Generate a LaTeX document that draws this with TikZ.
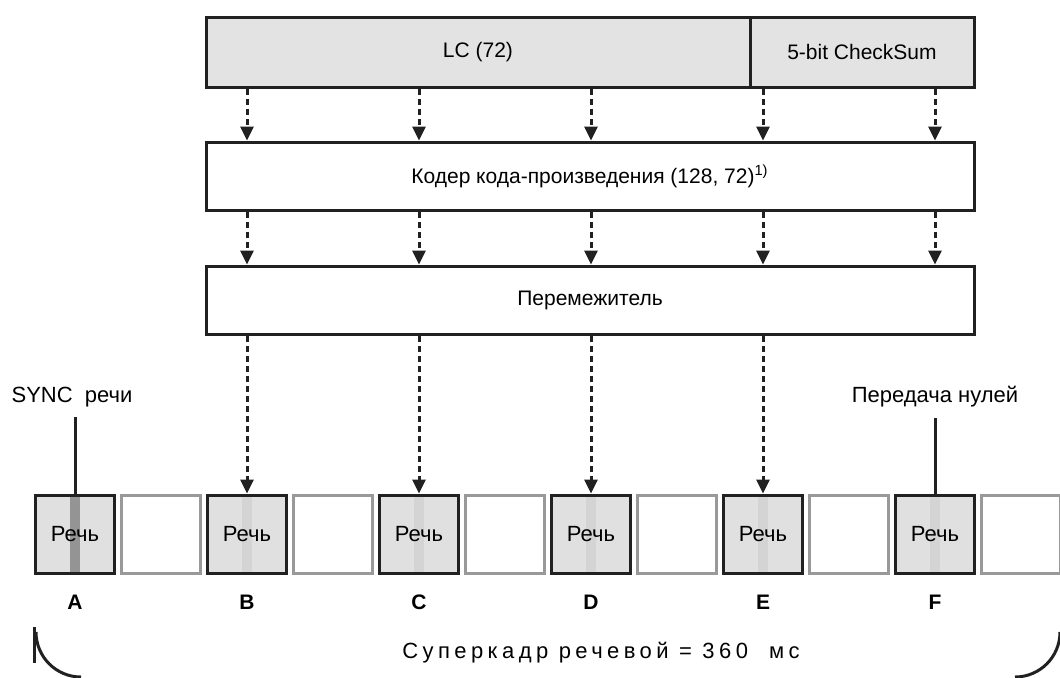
\documentclass[tikz,border=0pt]{standalone}
\usepackage{fontspec}
\setsansfont{Liberation Sans}
\usetikzlibrary{arrows.meta}

\begin{document}
\begin{tikzpicture}[x=0.5pt, y=-0.5pt,
  every node/.style={font=\sffamily\fontsize{11}{13}\selectfont},
  blk/.style={draw=black!87, line width=1.5pt, rectangle, minimum height=34pt,
              inner sep=0pt, align=center, font=\sffamily\fontsize{10.5}{12.5}\selectfont},
  hdr/.style={blk, fill=black!11, minimum height=35pt},
  slot/.style={draw=black!40, line width=1.5pt, fill=white, rectangle,
               minimum width=39.5pt, minimum height=39pt, inner sep=0pt},
  speech/.style={slot, draw=black!87, fill=black!12,
                 path picture={\fill[#1] ([xshift=-2.5pt]path picture bounding box.north)
                                rectangle ([xshift=2.5pt]path picture bounding box.south);}},
  speech/.default=black!17,
  lbl/.style={font=\sffamily\bfseries\fontsize{10.5}{12.5}\selectfont},
  ar/.style={-{Triangle[length=7pt,width=6.5pt]}, line width=1.5pt, black!87,
             dash pattern=on 3pt off 2pt},
  ln/.style={line width=1.5pt, black!87}]

\useasboundingbox (0,0) rectangle (1060,677);
\clip (0,0) rectangle (1060,677);

%% ---- TOP: header, coder, interleaver ----
\node[hdr, minimum width=272pt] (LC)  at (478,52)  {LC (72)};
\node[hdr, minimum width=112pt] (CS)  at (862,52)  {5-bit CheckSum};
\node[blk, minimum width=384pt] (ENC) at (590,176) {Кодер кода-произведения (128, 72)\textsuperscript{1)}};
\node[blk, minimum width=384pt] (ILV) at (590,300) {Перемежитель};

%% ---- SLOTS (superframe) ----
\node[speech=black!42] (SA) at (75,534)   {Речь};
\node[slot]            (E1) at (161,534)  {};
\node[speech]          (SB) at (247,534)  {Речь};
\node[slot]            (E2) at (333,534)  {};
\node[speech]          (SC) at (419,534)  {Речь};
\node[slot]            (E3) at (505,534)  {};
\node[speech]          (SD) at (591,534)  {Речь};
\node[slot]            (E4) at (677,534)  {};
\node[speech]          (SE) at (763,534)  {Речь};
\node[slot]            (E5) at (849,534)  {};
\node[speech]          (SF) at (935,534)  {Речь};
\node[slot]            (E6) at (1021,534) {};

%% ---- Labels ----
\node[lbl] (LA) at (75,602)  {A};
\node[lbl] (LB) at (247,602) {B};
\node[lbl] (LCc) at (419,602) {C};
\node[lbl] (LD) at (591,602) {D};
\node[lbl] (LE) at (763,602) {E};
\node[lbl] (LF) at (935,602) {F};

\node[inner sep=1pt] (SYNC) at (72,397)  {SYNC\ \ речи};
\node[inner sep=1pt] (ZERO) at (935,397) {Передача нулей};
\node (SUP) at (601,653) {\addfontfeature{LetterSpace=20}Суперкадр речевой = 360\ \ мс};

%% --- Arrows header -> coder ---
\draw[ar] (LC.south -| SB) -- (ENC.north -| SB);
\draw[ar] (LC.south -| SC) -- (ENC.north -| SC);
\draw[ar] (LC.south -| SD) -- (ENC.north -| SD);
\draw[ar] (CS.south -| SE) -- (ENC.north -| SE);
\draw[ar] (CS.south -| SF) -- (ENC.north -| SF);

%% --- Arrows coder -> interleaver ---
\draw[ar] (ENC.south -| SB) -- (ILV.north -| SB);
\draw[ar] (ENC.south -| SC) -- (ILV.north -| SC);
\draw[ar] (ENC.south -| SD) -- (ILV.north -| SD);
\draw[ar] (ENC.south -| SE) -- (ILV.north -| SE);
\draw[ar] (ENC.south -| SF) -- (ILV.north -| SF);

%% --- Arrows interleaver -> slots ---
\draw[ar] (ILV.south -| SB) -- (SB.north);
\draw[ar] (ILV.south -| SC) -- (SC.north);
\draw[ar] (ILV.south -| SD) -- (SD.north);
\draw[ar] (ILV.south -| SE) -- (SE.north);

%% --- Markers ---
\draw[ln] ([yshift=-4pt]SYNC.south -| SA) -- (SA.north);
\draw[ln] ([yshift=-4pt]ZERO.south -| SF) -- (SF.north);

%% --- Superframe bracket ---
\draw[ln] (34,627) -- (34,663);
\draw[ln] (36,632) arc[start angle=180, end angle=90, radius=45];
\draw[ln] (1015,677) arc[start angle=90, end angle=0, radius=45];
\end{tikzpicture}
\end{document}
